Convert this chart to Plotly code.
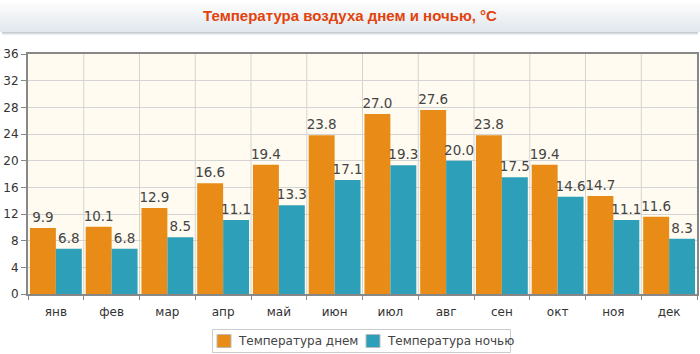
import plotly.graph_objects as go

months = ["янв", "фев", "мар", "апр", "май", "июн", "июл", "авг", "сен", "окт", "ноя", "дек"]
day_temp = [9.9, 10.1, 12.9, 16.6, 19.4, 23.8, 27.0, 27.6, 23.8, 19.4, 14.7, 11.6]
night_temp = [6.8, 6.8, 8.5, 11.1, 13.3, 17.1, 19.3, 20.0, 17.5, 14.6, 11.1, 8.3]
y_ticks = [0, 4, 8, 12, 16, 20, 24, 28, 32, 36]
series_names = ["Температура днем", "Температура ночью"]
series_colors = ["#E88C17", "#2E9FB8"]

font_fam = "DejaVu Sans"

# plot area in pixels
PL, PR, PT, PB = 28, 697, 54, 294
W, H = 700, 354


def px_x(x):
    return (x - PL) / (PR - PL)


def px_y(y):
    return (PB - y) / (PB - PT)


fig = go.Figure()
for name, vals, col in zip(series_names, [day_temp, night_temp], series_colors):
    fig.add_trace(go.Bar(
        x=months, y=vals, name=name,
        marker=dict(color=col, line=dict(width=0)),
        text=[f"{v:.1f}" for v in vals], textposition="outside",
        constraintext="none",
        textfont=dict(family=font_fam, size=13.5, color="#444"), cliponaxis=False,
        showlegend=False,
    ))

shapes = []
# title banner gradient
n = 16
top_col = (255, 255, 255)
bot_col = (226, 232, 237)
for i in range(n):
    t = i / (n - 1)
    c = tuple(int(top_col[k] + (bot_col[k] - top_col[k]) * t) for k in range(3))
    ytop = i * 32 / n
    ybot = (i + 1) * 32 / n
    shapes.append(dict(type="rect", xref="paper", yref="paper",
                       x0=px_x(0), x1=px_x(W), y0=px_y(ybot), y1=px_y(ytop),
                       fillcolor=f"rgb{c}", line=dict(width=0), layer="below"))
for j, col in enumerate(["#c4cacf", "#dadfe2", "#eceff1"]):
    yp = 32 + j + 0.5
    shapes.append(dict(type="line", xref="paper", yref="paper",
                       x0=px_x(2), x1=px_x(W - 2), y0=px_y(yp), y1=px_y(yp),
                       line=dict(color=col, width=1)))

# custom legend
shapes.append(dict(type="rect", xref="paper", yref="paper",
                   x0=px_x(212.5), x1=px_x(510.5), y0=px_y(352.5), y1=px_y(329.5),
                   fillcolor="white", line=dict(color="#cccccc", width=1)))
annotations = []
leg_items = [(217, 236), (366, 385)]
for (sx, tx), name, col in zip(leg_items, series_names, series_colors):
    shapes.append(dict(type="rect", xref="paper", yref="paper",
                       x0=px_x(sx), x1=px_x(sx + 14), y0=px_y(347.5), y1=px_y(334.5),
                       fillcolor=col, line=dict(color="#bbbbbb", width=1)))
    annotations.append(dict(text=name, xref="paper", yref="paper", x=px_x(tx), y=px_y(341),
                            xanchor="left", yanchor="middle", showarrow=False,
                            font=dict(family=font_fam, size=12, color="#444")))

fig.update_layout(
    width=W, height=H,
    margin=dict(l=PL, r=W - PR, t=PT, b=H - PB, autoexpand=False),
    paper_bgcolor="white",
    plot_bgcolor="#FFFBF0",
    barmode="group", bargap=0.07, bargroupgap=0.0,
    font=dict(family=font_fam, size=12, color="#333"),
    title=dict(text="<b>Температура воздуха днем и ночью, °C</b>",
               font=dict(family="Liberation Sans", size=15, color="#E2420C"),
               x=0.5, xanchor="center", y=1 - 16 / H, yanchor="middle"),
    showlegend=False,
    shapes=shapes,
    annotations=annotations,
)
fig.update_xaxes(
    showgrid=False, ticks="outside", ticklen=4, tickcolor="#888",
    tickson="boundaries", showline=True, linecolor="#888", linewidth=2, mirror=True,
    tickfont=dict(family=font_fam, size=12, color="#333"), ticklabelstandoff=6,
)
fig.update_yaxes(
    range=[0, 36], tickvals=y_ticks, showgrid=True, gridcolor="#d4d4d4", gridwidth=1,
    ticks="outside", ticklen=5, tickcolor="#888", showline=True, linecolor="#888",
    linewidth=2, mirror=True, zeroline=False,
    tickfont=dict(family=font_fam, size=12, color="#333"),
)
for i in range(1, 12):
    fig.add_vline(x=i - 0.5, line=dict(color="#d4d4d4", width=1), layer="below")

fig.write_html("out.html")
